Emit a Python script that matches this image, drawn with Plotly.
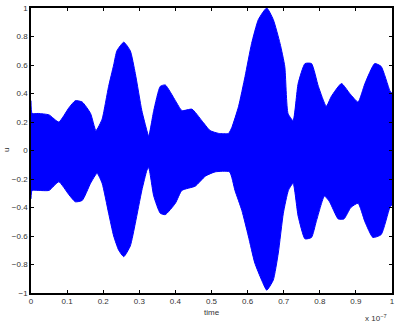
import plotly.graph_objects as go

# time (units of 1e-7 s) and envelope of the dense oscillating signal
t_up = [0.0, 0.003, 0.02, 0.05, 0.077, 0.105, 0.123, 0.142, 0.165, 0.18, 0.197, 0.206, 0.215, 0.229,
        0.238, 0.257, 0.275, 0.289, 0.307, 0.321, 0.326, 0.34, 0.358, 0.372, 0.4, 0.418, 0.446,
        0.473, 0.496, 0.52, 0.547, 0.556, 0.575, 0.593, 0.611, 0.63, 0.653, 0.671, 0.69, 0.703,
        0.712, 0.726, 0.74, 0.759, 0.777, 0.796, 0.818, 0.832, 0.86, 0.883, 0.906, 0.925, 0.952,
        0.97, 0.994, 1.0]
v_up = [0.35, 0.26, 0.26, 0.25, 0.20, 0.30, 0.35, 0.34, 0.26, 0.14, 0.22, 0.33, 0.45, 0.60,
        0.70, 0.76, 0.70, 0.54, 0.28, 0.14, 0.10, 0.28, 0.45, 0.46, 0.35, 0.28, 0.29,
        0.21, 0.14, 0.12, 0.12, 0.16, 0.31, 0.52, 0.75, 0.92, 1.0, 0.92, 0.75, 0.59,
        0.26, 0.21, 0.47, 0.61, 0.61, 0.45, 0.31, 0.38, 0.47, 0.40, 0.34, 0.47, 0.61,
        0.59, 0.42, 0.40]
t_lo = [0.0, 0.003, 0.02, 0.05, 0.077, 0.105, 0.123, 0.142, 0.165, 0.183, 0.197, 0.215, 0.229,
        0.243, 0.257, 0.275, 0.289, 0.307, 0.321, 0.326, 0.34, 0.358, 0.372, 0.4, 0.418, 0.455,
        0.483, 0.51, 0.55, 0.565, 0.584, 0.602, 0.62, 0.639, 0.653, 0.671, 0.685, 0.699, 0.713,
        0.726, 0.74, 0.759, 0.777, 0.79, 0.813, 0.827, 0.851, 0.867, 0.886, 0.906, 0.925, 0.947,
        0.97, 0.994, 1.0]
v_lo = [-0.34, -0.28, -0.28, -0.28, -0.22, -0.31, -0.36, -0.35, -0.23, -0.16, -0.23, -0.44, -0.60,
        -0.70, -0.745, -0.67, -0.51, -0.28, -0.14, -0.12, -0.32, -0.44, -0.45, -0.37, -0.28, -0.25,
        -0.18, -0.15, -0.15, -0.28, -0.42, -0.60, -0.79, -0.91, -0.98, -0.91, -0.72, -0.44, -0.28,
        -0.23, -0.46, -0.62, -0.61, -0.50, -0.32, -0.36, -0.48, -0.48, -0.40, -0.37, -0.50, -0.61,
        -0.59, -0.40, -0.38]

x_ticks = [0, 0.1, 0.2, 0.3, 0.4, 0.5, 0.6, 0.7, 0.8, 0.9, 1]
x_tick_text = ["0", "0.1", "0.2", "0.3", "0.4", "0.5", "0.6", "0.7", "0.8", "0.9", "1"]
y_ticks = [-1, -0.8, -0.6, -0.4, -0.2, 0, 0.2, 0.4, 0.6, 0.8, 1]
y_tick_text = ["\u22121", "\u22120.8", "\u22120.6", "\u22120.4", "\u22120.2", "0", "0.2", "0.4", "0.6", "0.8", "1"]

blue = "#0000ff"
fig = go.Figure()
fig.add_trace(go.Scatter(x=t_lo, y=v_lo, mode="lines",
                         line=dict(color=blue, width=1, shape="spline", smoothing=0.5),
                         hoverinfo="skip", showlegend=False))
fig.add_trace(go.Scatter(x=t_up, y=v_up, mode="lines",
                         line=dict(color=blue, width=1, shape="spline", smoothing=0.5),
                         fill="tonexty", fillcolor=blue, hoverinfo="skip", showlegend=False))

font = dict(family="Liberation Sans, Arial, sans-serif", size=8, color="#333333")
axis_common = dict(showgrid=False, zeroline=False, showline=True, linecolor="black", linewidth=1.5,
                   mirror="ticks", ticks="inside", ticklen=3, tickcolor="black", tickwidth=1,
                   tickfont=font)
fig.update_layout(
    width=396, height=330,
    margin=dict(l=31, r=2, t=8, b=37),
    paper_bgcolor="white", plot_bgcolor="white",
    xaxis=dict(range=[0, 1], tickvals=x_ticks, ticktext=x_tick_text, **axis_common),
    yaxis=dict(range=[-1, 1], tickvals=y_ticks, ticktext=y_tick_text, **axis_common),
    annotations=[
        dict(text="time", x=0.5, y=0, xref="paper", yref="paper", yshift=-26, showarrow=False,
             font=font, xanchor="center", yanchor="bottom"),
        dict(text="x 10<sup>\u22127</sup>", x=1, y=0, xref="paper", yref="paper", yshift=-32,
             xshift=-3, showarrow=False, font=font, xanchor="right", yanchor="bottom"),
        dict(text="u", x=0, y=0.5, xref="paper", yref="paper", xshift=-31, showarrow=False,
             textangle=-90, font=font, xanchor="left", yanchor="middle"),
    ],
)
fig.write_html("out.html")
